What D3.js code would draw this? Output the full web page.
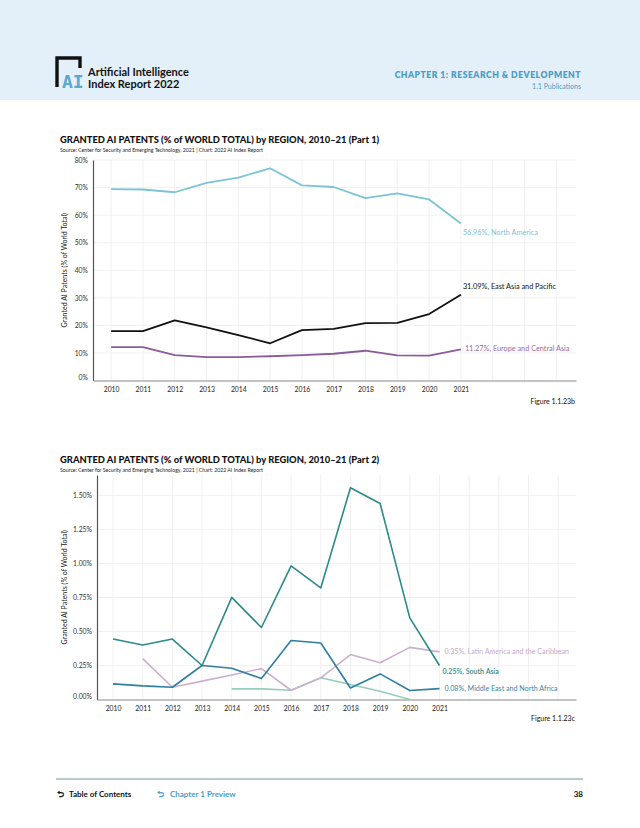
<!DOCTYPE html>
<html><head><meta charset="utf-8">
<script src="https://cdn.jsdelivr.net/npm/d3@7"></script>
<style>
html,body{margin:0;padding:0;background:#fff;}
svg{display:block;font-family:Lato,"Noto Sans",sans-serif;}
</style></head>
<body><svg id="c" width="640" height="828"></svg>
<script>
// ---------- DATA ----------
const years = [2010,2011,2012,2013,2014,2015,2016,2017,2018,2019,2020,2021];

// Part 1 (% of world total)
const northAmerica = [69.4,69.3,68.3,71.7,73.6,77.0,70.8,70.2,66.2,67.9,65.7,56.96];
const eastAsiaPacific = [17.9,17.9,21.8,19.3,16.5,13.5,18.3,18.7,20.8,20.9,24.1,31.09];
const europeCentralAsia = [12.1,12.1,9.2,8.5,8.5,8.8,9.2,9.7,10.8,9.1,9.0,11.27];
const yTicks1 = [0,10,20,30,40,50,60,70,80];
const yTickLabels1 = ["0%","10%","20%","30%","40%","50%","60%","70%","80%"];

// Part 2 (% of world total)
const southAsia = [0.444,0.40,0.444,0.25,0.751,0.529,0.982,0.82,1.556,1.44,0.60,0.25];
const middleEastNorthAfrica = [0.115,0.10,0.09,0.25,0.23,0.154,0.434,0.415,0.085,0.188,0.066,0.08];
const latinAmericaCaribbean = [null,0.30,0.09,0.135,0.18,0.227,0.068,0.159,0.33,0.27,0.383,0.35];
const subSaharanAfrica = [null,null,null,null,0.078,0.078,0.068,0.16,0.11,0.06,0.0,null];
const yTicks2 = [0,0.25,0.5,0.75,1.0,1.25,1.5];
const yTickLabels2 = ["0.00%","0.25%","0.50%","0.75%","1.00%","1.25%","1.50%"];

const labels1 = ["56.96%, North America","31.09%, East Asia and Pacific","11.27%, Europe and Central Asia"];
const labels2 = ["0.35%, Latin America and the Caribbean","0.25%, South Asia","0.08%, Middle East and North Africa"];

// ---------- DRAW ----------
const svg = d3.select("#c");

// header band
svg.append("rect").attr("x",0).attr("y",0).attr("width",640).attr("height",100).attr("fill","#e3f0fa");
// logo
const logo = svg.append("g");
logo.append("path").attr("d","M57,87 L57,58 L80,58 L80,68").attr("fill","none").attr("stroke","#111").attr("stroke-width",3.4);
logo.append("text").attr("x",62).attr("y",88).attr("font-size",18).attr("font-weight",900)
  .attr("fill","#5aa7d2").attr("font-family","'DejaVu Sans Mono',monospace").text("AI");
svg.append("text").attr("x",88).attr("y",76).attr("font-size",11).attr("font-weight",700).attr("fill","#111").text("Artificial Intelligence");
svg.append("text").attr("x",88).attr("y",88).attr("font-size",11).attr("font-weight",700).attr("fill","#111").text("Index Report 2022");
svg.append("text").attr("x",581).attr("y",78).attr("text-anchor","end").attr("font-size",8.6).attr("font-weight",800)
  .attr("letter-spacing",0.5).attr("fill","#4b9cc6").text("CHAPTER 1: RESEARCH & DEVELOPMENT");
svg.append("text").attr("x",581).attr("y",89).attr("text-anchor","end").attr("font-size",7).attr("fill","#4b9cc6").text("1.1 Publications");

function titleBlock(y, title){
  svg.append("text").attr("x",60).attr("y",y).attr("font-size",9.4).attr("font-weight",900).attr("fill","#111").text(title);
  svg.append("text").attr("x",60).attr("y",y+9).attr("font-size",5.2).attr("fill","#222")
    .text("Source: Center for Security and Emerging Technology, 2021 | Chart: 2022 AI Index Report");
}

function chart(opts){
  const x = d3.scaleLinear().domain(opts.xDomain).range([opts.left, opts.right]);
  const y = d3.scaleLinear().domain(opts.yDomain).range([opts.bottom, opts.top]);
  const g = svg.append("g");
  // grid
  const gridYears = d3.range(2010, Math.floor(opts.xDomain[1])+1);
  g.selectAll(".vg").data(gridYears).join("line")
    .attr("x1",d=>x(d)).attr("x2",d=>x(d)).attr("y1",opts.top).attr("y2",opts.bottom)
    .attr("stroke","#eeeeee").attr("stroke-width",0.8);
  g.selectAll(".hg").data(opts.yTicks.filter(d=>d>0)).join("line")
    .attr("x1",opts.left).attr("x2",opts.right).attr("y1",d=>y(d)).attr("y2",d=>y(d))
    .attr("stroke","#eeeeee").attr("stroke-width",0.8);
  // axes
  const ya = d3.axisLeft(y).tickValues(opts.yTicks).tickFormat((d,i)=>opts.yLabels[i]).tickSize(0).tickPadding(5);
  const yg = g.append("g").attr("transform",`translate(${opts.left},0)`).call(ya);
  yg.select(".domain").attr("stroke","#555").attr("stroke-width",1.2);
  yg.selectAll("text").attr("font-size",6.8).attr("fill","#333").attr("font-family","Lato,sans-serif");
  yg.selectAll(".tick").filter(d=>d===0).select("text").attr("dy","-0.1em");
  const xa = d3.axisBottom(x).tickValues(years).tickFormat(d3.format("d")).tickSize(0).tickPadding(7);
  const xg = g.append("g").attr("transform",`translate(0,${opts.bottom})`).call(xa);
  xg.select(".domain").attr("stroke","#888").attr("stroke-width",1.2);
  xg.selectAll("text").attr("font-size",6.8).attr("fill","#222").attr("font-family","Lato,sans-serif");
  // y title
  g.append("text").attr("transform",`translate(${opts.titleX},${(opts.top+opts.bottom)/2}) rotate(-90)`)
    .attr("text-anchor","middle").attr("font-size",7).attr("fill","#222").text("Granted AI Patents (% of World Total)");
  // lines
  const line = d3.line().defined(d=>d[1]!==null).x(d=>x(d[0])).y(d=>y(d[1]));
  opts.series.forEach(s=>{
    g.append("path").datum(years.map((yr,i)=>[yr,s.values[i]]))
      .attr("d",line).attr("fill","none").attr("stroke",s.color).attr("stroke-width",s.width||1.8)
      .attr("stroke-linejoin","round");
    if(s.label){
      g.append("text").attr("x",x(2021)+s.dx).attr("y",y(s.values[11])+s.dy)
        .attr("font-size",s.fs||7.3).attr("fill",s.labelColor||s.color).attr("font-weight",s.bold?600:400).text(s.label);
    }
  });
  g.append("text").attr("x",opts.right-1).attr("y",opts.figY).attr("text-anchor","end")
    .attr("font-size",7).attr("fill","#111").text(opts.fig);
  return {x,y};
}

titleBlock(143,"GRANTED AI PATENTS (% of WORLD TOTAL) by REGION, 2010–21 (Part 1)");
chart({
  xDomain:[2009.43,2024.62], left:93, right:576,
  yDomain:[0,80], top:160, bottom:380.5,
  yTicks:yTicks1, yLabels:yTickLabels1, titleX:67,
  figY:404, fig:"Figure 1.1.23b",
  series:[
    {values:northAmerica, color:"#7cc3d7", label:labels1[0], dx:2, dy:11},
    {values:eastAsiaPacific, color:"#111111", label:labels1[1], dx:2, dy:-6},
    {values:europeCentralAsia, color:"#8b5c99", label:labels1[2], dx:4, dy:2, labelColor:"#9b6aa8"}
  ]
});

titleBlock(463,"GRANTED AI PATENTS (% of WORLD TOTAL) by REGION, 2010–21 (Part 2)");
chart({
  xDomain:[2009.46,2025.6], left:97, right:576,
  yDomain:[0,1.65], top:475, bottom:699.5,
  yTicks:yTicks2, yLabels:yTickLabels2, titleX:67,
  figY:721, fig:"Figure 1.1.23c",
  series:[
    {values:subSaharanAfrica, color:"#94cdb9", width:1.6},
    {values:latinAmericaCaribbean, color:"#cdaed0", width:1.6, label:labels2[0], dx:5, dy:2, labelColor:"#c6a9c8", fs:7.1},
    {values:middleEastNorthAfrica, color:"#2f7ea1", width:1.6, label:labels2[2], dx:5, dy:2, labelColor:"#3a86a8", fs:7.1},
    {values:southAsia, color:"#2a8b89", width:1.6, label:labels2[1], dx:3, dy:9, bold:true, labelColor:"#2b8c8a", fs:7.1}
  ]
});

// footer
svg.append("line").attr("x1",56).attr("x2",583).attr("y1",779).attr("y2",779).attr("stroke","#9fb7bd").attr("stroke-width",1.5);
svg.append("text").attr("x",57).attr("y",797).attr("font-size",9).attr("font-weight",700).attr("fill","#111").text("⮌");
svg.append("text").attr("x",69).attr("y",797).attr("font-size",8).attr("font-weight",700).attr("fill","#111").text("Table of Contents");
svg.append("text").attr("x",157).attr("y",797).attr("font-size",9).attr("font-weight",700).attr("fill","#4b9cc6").text("⮌");
svg.append("text").attr("x",170).attr("y",797).attr("font-size",8).attr("font-weight",700).attr("fill","#4b9cc6").text("Chapter 1 Preview");
svg.append("text").attr("x",583).attr("y",797).attr("text-anchor","end").attr("font-size",8).attr("font-weight",700).attr("fill","#111").text("38");
</script></body></html>
